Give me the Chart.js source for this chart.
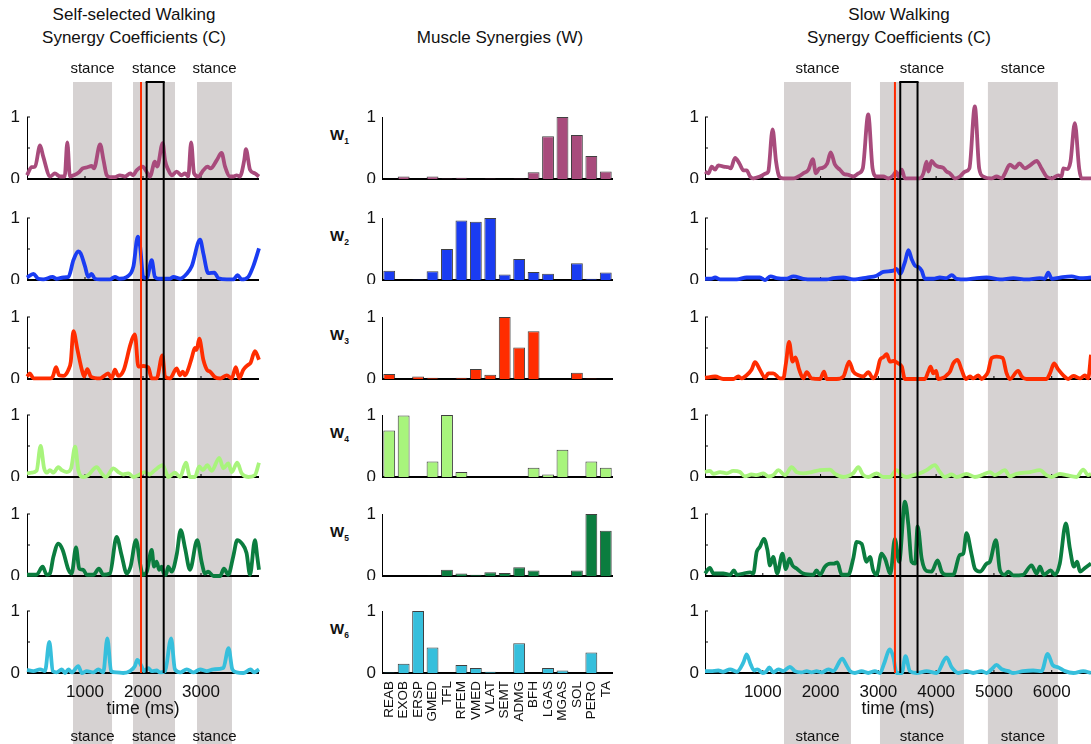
<!DOCTYPE html>
<html>
<head>
<meta charset="utf-8">
<script src="https://cdn.jsdelivr.net/npm/chart.js@4.4.0/dist/chart.umd.min.js"></script>
<style>
  body { margin: 0; background: #fff; font-family: "Liberation Sans", Arial, sans-serif; }
  #wrap { position: relative; width: 1091px; height: 744px; overflow: hidden; }
  canvas { position: absolute; }
  .lbl { position: absolute; transform: translate(-50%, -50%); white-space: nowrap; color: #111; font-size: 17px; }
  .wlbl { position: absolute; transform: translateY(-50%); font-size: 15px; font-weight: bold; color: #111; }
  .wlbl sub { font-size: 8.5px; }
</style>
</head>
<body>
<div id="wrap"></div>
<script>
// ---- data ----
const muscles = ["REAB", "EXOB", "ERSP", "GMED", "TFL", "RFEM", "VMED", "VLAT",
  "SEMT", "ADMG", "BFH", "LGAS", "MGAS", "SOL", "PERO", "TA"];

const synW1 = [0, 0.04, 0, 0.04, 0.01, 0.02, 0, 0.01, 0, 0.01, 0.11, 0.69, 1.0, 0.71, 0.37, 0.12];
const synW2 = [0.15, 0, 0.01, 0.14, 0.5, 0.96, 0.94, 1.0, 0.09, 0.34, 0.13, 0.1, 0, 0.27, 0.02, 0.12];
const synW3 = [0.08, 0, 0.04, 0.02, 0, 0.02, 0.16, 0.07, 1.0, 0.51, 0.77, 0, 0, 0.1, 0.01, 0];
const synW4 = [0.75, 0.99, 0, 0.25, 1.0, 0.08, 0, 0, 0, 0, 0.15, 0.04, 0.44, 0, 0.25, 0.15];
const synW5 = [0, 0, 0, 0.005, 0.1, 0.04, 0.02, 0.06, 0.05, 0.14, 0.09, 0, 0, 0.09, 1.0, 0.73];
const synW6 = [0.01, 0.15, 1.0, 0.41, 0, 0.13, 0.08, 0.02, 0, 0.48, 0, 0.08, 0.04, 0, 0.33, 0];

// self-selected walking coefficients, [time ms, value]
const selfC1 = [[0,0.06],[80,0.19],[140,0.2],[225,0.54],[280,0.36],[400,0.04],[480,0.09],[570,0.04],[650,0.04],[695,0.59],[740,0.04],[800,0.06],[885,0.1],[960,0.17],[1040,0.19],[1115,0.21],[1155,0.17],[1260,0.56],[1320,0.3],[1375,0.06],[1430,0.03],[1520,0.03],[1600,0.06],[1690,0.04],[1780,0.09],[1830,0.06],[1890,0.14],[1995,0.2],[2060,0.12],[2120,0.04],[2205,0.28],[2245,0.2],[2340,0.58],[2380,0.3],[2440,0.14],[2495,0.06],[2580,0.12],[2665,0.06],[2725,0.09],[2780,0.04],[2830,0.59],[2880,0.09],[2955,0.04],[3040,0.14],[3110,0.2],[3165,0.17],[3270,0.3],[3355,0.42],[3415,0.2],[3500,0.04],[3560,0.04],[3615,0.06],[3670,0.04],[3745,0.3],[3775,0.48],[3845,0.15],[3930,0.09],[4000,0.04]];
const selfC2 = [[0,0.04],[110,0.1],[195,0.02],[280,0.01],[440,0.05],[510,0.02],[625,0.04],[715,0.05],[800,0.32],[885,0.46],[925,0.43],[1000,0.22],[1055,0.05],[1115,0.1],[1170,0.02],[1260,0.01],[1430,0.01],[1515,0.05],[1600,0.02],[1720,0.05],[1835,0.22],[1910,0.7],[1950,0.54],[2005,0.05],[2065,0.03],[2150,0.32],[2205,0.05],[2290,0.02],[2465,0.02],[2525,0.05],[2640,0.02],[2755,0.1],[2840,0.22],[2985,0.65],[3040,0.43],[3125,0.11],[3230,0.12],[3300,0.03],[3445,0.01],[3560,0.01],[3630,0.08],[3700,0.01],[3815,0.05],[3900,0.22],[4000,0.51]];
const selfC3 = [[0,0.04],[50,0.09],[110,0.01],[400,0.01],[445,0.04],[500,0.19],[555,0.06],[625,0.05],[715,0.15],[755,0.28],[800,0.77],[870,0.47],[945,0.15],[985,0.04],[1040,0.16],[1100,0.04],[1260,0.01],[1345,0.06],[1400,0.09],[1460,0.01],[1515,0.15],[1575,0.05],[1670,0.15],[1775,0.53],[1820,0.66],[1860,0.72],[1920,0.2],[2005,0.21],[2090,0.19],[2150,0.01],[2235,0.01],[2335,0.38],[2380,0.04],[2465,0.01],[2580,0.17],[2640,0.06],[2685,0.12],[2725,0.06],[2780,0.16],[2840,0.34],[2895,0.5],[2925,0.47],[2970,0.65],[3040,0.31],[3110,0.14],[3155,0.12],[3240,0.03],[3330,0.01],[3445,0.06],[3530,0.01],[3600,0.19],[3660,0.01],[3730,0.15],[3815,0.23],[3855,0.26],[3930,0.45],[4000,0.31]];
const selfC4 = [[0,0.06],[80,0.07],[165,0.1],[235,0.5],[295,0.14],[340,0.07],[395,0.11],[455,0.07],[540,0.16],[600,0.11],[685,0.08],[760,0.14],[830,0.49],[885,0.11],[970,0.0],[1055,0.03],[1200,0.16],[1285,0.06],[1360,0.0],[1490,0.14],[1575,0.08],[1660,0.04],[1745,0.06],[1835,0.0],[1920,0.03],[2035,0.08],[2110,0.04],[2205,0.11],[2340,0.19],[2395,0.08],[2435,0.0],[2550,0.07],[2640,0.0],[2740,0.23],[2810,0.0],[2895,0.0],[2970,0.17],[3030,0.11],[3110,0.19],[3185,0.1],[3315,0.31],[3385,0.14],[3470,0.22],[3530,0.08],[3625,0.23],[3700,0.06],[3815,0.0],[3930,0.03],[4000,0.23]];
const selfC5 = [[0,0.02],[165,0.02],[270,0.15],[340,0.02],[395,0.04],[455,0.31],[540,0.52],[615,0.42],[715,0.1],[770,0.04],[845,0.46],[900,0.12],[970,0.1],[1030,0.02],[1145,0.02],[1240,0.12],[1315,0.02],[1430,0.04],[1545,0.63],[1630,0.34],[1720,0.04],[1785,0.15],[1880,0.58],[1950,0.2],[1995,0.02],[2065,0.07],[2150,0.42],[2190,0.15],[2235,0.23],[2280,0.1],[2320,0.15],[2360,0.04],[2395,0.02],[2435,0.15],[2495,0.07],[2580,0.34],[2650,0.74],[2725,0.45],[2810,0.1],[2935,0.58],[3010,0.23],[3070,0.04],[3125,0.07],[3215,0.0],[3330,0.0],[3395,0.12],[3470,0.02],[3555,0.31],[3625,0.58],[3700,0.53],[3785,0.37],[3845,0.02],[3930,0.58],[3970,0.31],[4000,0.1]];
const selfC6 = [[0,0.05],[110,0.03],[225,0.06],[310,0.03],[385,0.5],[445,0.03],[510,0.01],[600,0.06],[655,0.0],[715,0.06],[770,0.01],[885,0.11],[945,0.0],[1030,0.03],[1145,0.01],[1230,0.06],[1315,0.01],[1385,0.56],[1450,0.03],[1545,0.01],[1660,0.0],[1775,0.03],[1860,0.11],[1900,0.21],[1975,0.11],[2015,0.03],[2090,0.08],[2150,0.03],[2235,0.04],[2295,0.01],[2380,0.03],[2485,0.56],[2550,0.06],[2640,0.01],[2755,0.06],[2870,0.01],[2985,0.06],[3100,0.03],[3215,0.06],[3385,0.08],[3475,0.4],[3540,0.06],[3615,0.01],[3730,0.0],[3855,0.06],[3915,0.01],[4000,0.06]];

// slow walking coefficients, [time ms, value]
const slowC1 = [[0,0.12],[60,0.09],[115,0.2],[175,0.15],[230,0.22],[320,0.2],[405,0.19],[445,0.17],[520,0.34],[595,0.25],[665,0.14],[720,0.14],[780,0.04],[835,0.01],[950,0.04],[1055,0.09],[1095,0.12],[1170,0.8],[1230,0.28],[1285,0.04],[1355,0.01],[1530,0.01],[1615,0.04],[1700,0.09],[1790,0.15],[1865,0.32],[1920,0.09],[1980,0.17],[2035,0.18],[2115,0.25],[2175,0.43],[2250,0.23],[2335,0.15],[2405,0.08],[2465,0.07],[2565,0.04],[2655,0.09],[2730,0.17],[2825,1.04],[2900,0.17],[2970,0.04],[3085,0.04],[3170,0.01],[3260,0.06],[3305,0.12],[3345,0.04],[3405,0.15],[3460,0.01],[3605,0.01],[3720,0.01],[3780,0.09],[3835,0.28],[3865,0.12],[3920,0.29],[3980,0.23],[4035,0.2],[4125,0.18],[4180,0.12],[4240,0.09],[4325,0.01],[4410,0.04],[4500,0.12],[4575,0.17],[4670,1.17],[4745,0.17],[4815,0.04],[4960,0.01],[5045,0.04],[5135,0.01],[5190,0.09],[5275,0.23],[5365,0.18],[5440,0.25],[5535,0.17],[5625,0.22],[5740,0.29],[5825,0.17],[5910,0.04],[6000,0.01],[6115,0.06],[6170,0.04],[6200,0.17],[6270,0.16],[6325,0.28],[6400,0.9],[6475,0.17],[6515,0.01],[6680,0.01]];
const slowC2 = [[0,0.02],[100,0.02],[175,0.04],[260,0.01],[550,0.01],[720,0.04],[950,0.04],[1040,0.0],[1135,0.06],[1240,0.03],[1415,0.02],[1530,0.06],[1700,0.02],[1875,0.01],[2105,0.01],[2220,0.03],[2395,0.04],[2565,0.01],[2800,0.04],[2970,0.07],[3085,0.13],[3260,0.15],[3315,0.18],[3375,0.1],[3460,0.29],[3520,0.48],[3575,0.34],[3635,0.23],[3690,0.21],[3750,0.15],[3805,0.02],[3950,0.02],[4065,0.04],[4180,0.03],[4270,0.08],[4355,0.02],[4525,0.01],[4700,0.03],[4875,0.04],[5105,0.01],[5335,0.03],[5565,0.01],[5795,0.03],[5880,0.02],[5940,0.12],[6000,0.02],[6140,0.04],[6345,0.06],[6490,0.03],[6680,0.04]];
const slowC3 = [[0,0.02],[175,0.04],[315,0.0],[490,0.0],[575,0.04],[635,0.01],[720,0.06],[805,0.15],[865,0.27],[950,0.15],[1040,0.02],[1095,0.09],[1180,0.09],[1300,0.01],[1355,0.01],[1400,0.25],[1455,0.6],[1515,0.28],[1565,0.35],[1630,0.15],[1700,0.01],[1760,0.11],[1845,0.01],[1990,0.0],[2060,0.12],[2105,0.0],[2280,0.0],[2395,0.04],[2495,0.28],[2565,0.12],[2655,0.06],[2740,0.04],[2825,0.11],[2910,0.01],[2970,0.09],[3030,0.31],[3085,0.35],[3145,0.4],[3200,0.28],[3260,0.29],[3345,0.25],[3405,0.2],[3460,0.0],[3805,0.0],[3865,0.12],[3905,0.2],[3950,0.09],[4000,0.13],[4035,0.0],[4125,0.02],[4180,0.06],[4240,0.12],[4295,0.25],[4370,0.31],[4440,0.15],[4515,0.0],[4585,0.04],[4640,0.01],[4730,0.06],[4785,0.0],[4845,0.04],[4900,0.12],[4960,0.34],[5045,0.36],[5150,0.34],[5220,0.09],[5275,0.0],[5420,0.13],[5480,0.04],[5565,0.0],[5910,0.0],[5970,0.09],[6040,0.25],[6115,0.15],[6200,0.06],[6285,0.0],[6375,0.05],[6490,0.01],[6575,0.06],[6630,0.01],[6680,0.39]];
const slowC4 = [[0,0.08],[85,0.1],[145,0.05],[260,0.08],[375,0.06],[490,0.1],[605,0.08],[690,0.01],[805,0.04],[895,0.03],[1010,0.06],[1095,0.01],[1180,0.03],[1270,0.11],[1385,0.03],[1500,0.16],[1585,0.08],[1700,0.06],[1845,0.08],[1990,0.11],[2165,0.12],[2250,0.05],[2395,0.0],[2510,0.03],[2565,0.06],[2655,0.16],[2730,0.04],[2825,0.0],[2970,0.06],[3085,0.0],[3200,0.0],[3315,0.11],[3405,0.03],[3490,0.0],[3605,0.03],[3720,0.06],[3835,0.11],[3980,0.19],[4065,0.08],[4150,0.0],[4270,0.04],[4355,0.0],[4525,0.05],[4670,0.0],[4815,0.04],[4930,0.08],[5015,0.03],[5190,0.11],[5275,0.01],[5390,0.05],[5625,0.08],[5795,0.11],[5910,0.03],[6000,0.0],[6140,0.05],[6255,0.03],[6430,0.0],[6545,0.12],[6630,0.03],[6680,0.05]];
const slowC5 = [[0,0.04],[85,0.13],[145,0.04],[315,0.04],[435,0.02],[500,0.09],[550,0.02],[665,0.04],[780,0.06],[835,0.04],[895,0.39],[950,0.47],[1020,0.6],[1080,0.42],[1125,0.17],[1180,0.31],[1250,0.04],[1340,0.36],[1400,0.11],[1460,0.28],[1515,0.17],[1585,0.12],[1700,0.04],[1875,0.02],[1930,0.09],[1990,0.02],[2075,0.15],[2165,0.2],[2230,0.2],[2290,0.22],[2365,0.02],[2480,0.02],[2565,0.28],[2625,0.55],[2710,0.52],[2795,0.23],[2855,0.31],[2910,0.09],[2970,0.02],[3055,0.36],[3115,0.28],[3210,0.04],[3285,0.6],[3360,0.23],[3460,1.2],[3520,0.82],[3575,0.23],[3635,0.2],[3680,0.8],[3750,0.28],[3835,0.08],[3920,0.07],[4025,0.25],[4095,0.07],[4180,0.02],[4295,0.02],[4410,0.34],[4470,0.36],[4525,0.69],[4615,0.34],[4670,0.12],[4760,0.07],[4875,0.2],[4930,0.23],[5035,0.58],[5105,0.09],[5190,0.02],[5250,0.07],[5335,0.01],[5505,0.02],[5650,0.17],[5740,0.04],[5795,0.15],[5865,0.02],[5980,0.09],[6055,0.02],[6140,0.2],[6245,0.85],[6315,0.44],[6385,0.15],[6440,0.23],[6490,0.07],[6575,0.13],[6680,0.2]];
const slowC6 = [[0,0.03],[100,0.03],[230,0.04],[315,0.02],[435,0.06],[550,0.02],[665,0.17],[720,0.3],[790,0.14],[850,0.04],[905,0.06],[1000,0.0],[1055,0.02],[1115,0.09],[1180,0.01],[1270,0.06],[1355,0.03],[1470,0.1],[1555,0.03],[1670,0.01],[1760,0.03],[1845,0.01],[1930,0.03],[2020,0.01],[2135,0.06],[2220,0.03],[2375,0.23],[2450,0.12],[2510,0.03],[2595,0.0],[2710,0.03],[2825,0.0],[2940,0.03],[3030,0.0],[3095,0.14],[3200,0.38],[3260,0.25],[3315,0.0],[3405,0.0],[3470,0.27],[3545,0.03],[3660,0.0],[3835,0.03],[4010,0.0],[4180,0.25],[4270,0.09],[4385,0.0],[4525,0.03],[4640,0.0],[4785,0.03],[4875,0.0],[4960,0.06],[5045,0.13],[5135,0.06],[5250,0.03],[5335,0.0],[5505,0.03],[5680,0.04],[5825,0.03],[5930,0.31],[6015,0.13],[6115,0.09],[6230,0.03],[6375,0.0],[6545,0.03],[6680,0.0]];

// gait events (ms)
const selfStance = [[793, 1466], [1828, 2552], [2931, 3534]];
const slowStance = [[1367, 2526], [3028, 4481], [4896, 6107]];
const selfMarker = 1966, slowMarker = 3287;
const selfWindow = [2063, 2357], slowWindow = [3379, 3678];
const selfTicks = [1000, 2000, 3000];
const slowTicks = [1000, 2000, 3000, 4000, 5000, 6000];

const colors = ["#a84b7c", "#1a3cf2", "#ff2d00", "#a8f47c", "#0b7d3f", "#36bfdc"];

// ---- layout ----
const rowBase = [179, 280, 379, 477, 576, 673];
const canvasTop = [55, 183, 284, 383, 481, 580];
const pageBottom = 744;
const unitPx = 62;
const shadeTop = 82;
const FONT = '"Liberation Sans", Arial, sans-serif';

Chart.defaults.font.family = FONT;
Chart.defaults.color = "#111";

const wrap = document.getElementById("wrap");

function addText(cls, html, x, y) {
  const d = document.createElement("div");
  d.className = cls;
  d.innerHTML = html;
  d.style.left = x + "px";
  d.style.top = y + "px";
  wrap.appendChild(d);
}

function line(ctx, x0, y0, x1, y1) {
  ctx.beginPath();
  ctx.moveTo(x0, y0);
  ctx.lineTo(x1, y1);
  ctx.stroke();
}

// shaded stance phases, axes, marker line and window box
const gaitPlugin = {
  id: "gait",
  beforeDraw(chart, args, o) {
    const { ctx } = chart;
    const x = chart.scales.x;
    ctx.save();
    ctx.fillStyle = "#d6d2d2";
    o.bands.forEach((b) => {
      const x0 = x.getPixelForValue(b[0]);
      const x1 = x.getPixelForValue(b[1]);
      ctx.fillRect(x0, o.shadeTop, x1 - x0, chart.height - o.shadeTop);
    });
    if (o.labelY !== null) {
      ctx.fillStyle = "#111";
      ctx.font = "15px " + FONT;
      ctx.textAlign = "center";
      ctx.textBaseline = "middle";
      o.bands.forEach((b) => {
        ctx.fillText("stance", x.getPixelForValue((b[0] + b[1]) / 2), o.labelY);
      });
    }
    ctx.restore();
  },
  beforeDatasetsDraw(chart, args, o) {
    const { ctx, chartArea: ca } = chart;
    const { x, y } = chart.scales;
    const y0 = y.getPixelForValue(0);
    const y1 = y.getPixelForValue(1);
    ctx.save();
    ctx.strokeStyle = "#000";
    ctx.lineWidth = 1.8;
    line(ctx, ca.left, y0, ca.right, y0);
    ctx.lineWidth = 1;
    line(ctx, ca.left + 0.5, y0, ca.left + 0.5, y1);
    if (o.ticks) {
      [0.5, 1].forEach((v) => line(ctx, ca.left, y.getPixelForValue(v), ca.left + 3, y.getPixelForValue(v)));
      o.ticks.forEach((v) => line(ctx, x.getPixelForValue(v), y0, x.getPixelForValue(v), y0 - 3));
    }
    ctx.restore();
  },
  afterDatasetsDraw(chart, args, o) {
    if (o.marker === null) return;
    const { ctx } = chart;
    const { x, y } = chart.scales;
    const bottom = o.toAxis ? y.getPixelForValue(0) : chart.height;
    ctx.save();
    ctx.strokeStyle = "#ff2a00";
    ctx.lineWidth = 2;
    const xm = x.getPixelForValue(o.marker);
    line(ctx, xm, o.shadeTop, xm, bottom);
    ctx.strokeStyle = "#000";
    const xa = x.getPixelForValue(o.win[0]);
    const xb = x.getPixelForValue(o.win[1]);
    line(ctx, xa, o.shadeTop, xa, bottom);
    line(ctx, xb, o.shadeTop, xb, bottom);
    if (o.cap) line(ctx, xa - 1, o.shadeTop, xb + 1, o.shadeTop);
    ctx.restore();
  },
};

function makeCanvas(left, top, w, h) {
  const c = document.createElement("canvas");
  c.width = w;
  c.height = h;
  c.style.left = left + "px";
  c.style.top = top + "px";
  wrap.appendChild(c);
  return c;
}

function rowGeom(r) {
  const top = canvasTop[r];
  const bottom = r < 5 ? canvasTop[r + 1] : pageBottom;
  return { top, h: bottom - top, below: bottom - rowBase[r], yMax: (rowBase[r] - top) / unitPx, last: r === 5 };
}

function yScale(yMax, axisW, pad) {
  return {
    min: 0,
    max: yMax,
    grid: { display: false, drawTicks: false },
    border: { display: false },
    ticks: { font: { size: 17 }, color: "#111", padding: pad, callback: (v) => String(v) },
    afterBuildTicks: (s) => { s.ticks = [{ value: 0 }, { value: 1 }]; },
    afterFit: (s) => { s.width = axisW; s.paddingTop = 0; s.paddingBottom = 0; },
  };
}

function lineChart(col, r, series) {
  const g = rowGeom(r);
  const c = makeCanvas(col.left, g.top, col.width, g.h);
  new Chart(c, {
    type: "line",
    data: {
      datasets: [{
        data: series.map((p) => ({ x: p[0], y: p[1] })),
        borderColor: colors[r],
        borderWidth: 3.8,
        pointRadius: 0,
        cubicInterpolationMode: "monotone",
        clip: false,
      }],
    },
    options: {
      responsive: false,
      animation: false,
      events: [],
      layout: { padding: { top: 0, left: 0, right: col.padRight, bottom: g.last ? 0 : g.below } },
      scales: {
        x: {
          type: "linear",
          min: 0,
          max: col.xMax,
          display: g.last,
          grid: { display: false, drawTicks: false },
          border: { display: false },
          ticks: { font: { size: 17 }, color: "#111", padding: 9, maxRotation: 0, autoSkip: false,
            callback: (v) => String(v) },
          afterBuildTicks: (s) => { s.ticks = col.ticks.map((v) => ({ value: v })); },
          afterFit: (s) => {
            if (g.last) s.height = g.below;
            s.paddingLeft = 0;
            s.paddingRight = 0;
          },
          title: { display: g.last, text: "time (ms)", font: { size: 17.5 }, color: "#111", padding: { top: 0, bottom: 24 } },
        },
        y: yScale(g.yMax, col.axisW, col.tickPad),
      },
      plugins: {
        legend: { display: false },
        tooltip: { enabled: false },
        gait: {
          bands: col.bands,
          shadeTop: r === 0 ? shadeTop - g.top : 0,
          labelY: r === 0 ? 69 - g.top : g.last ? 737 - g.top : null,
          ticks: col.ticks,
          marker: col.marker,
          win: col.win,
          cap: r === 0,
          toAxis: g.last,
        },
      },
    },
    plugins: [gaitPlugin],
  });
}

function barChart(r, values) {
  const g = rowGeom(r);
  const c = makeCanvas(350, g.top, 270, g.h);
  new Chart(c, {
    type: "bar",
    data: {
      labels: muscles,
      datasets: [{
        data: values,
        backgroundColor: colors[r],
        borderColor: "rgba(30,30,30,0.85)",
        borderWidth: 1,
        barPercentage: 0.82,
        categoryPercentage: 1,
      }],
    },
    options: {
      responsive: false,
      animation: false,
      events: [],
      layout: { padding: { top: 0, left: 0, right: 7, bottom: g.last ? 0 : g.below } },
      scales: {
        x: {
          display: g.last,
          grid: { display: false, drawTicks: false },
          border: { display: false },
          ticks: { font: { size: 13.5 }, color: "#111", padding: 8, minRotation: 90, maxRotation: 90, autoSkip: false },
          afterFit: (s) => {
            if (g.last) s.height = g.below;
            s.paddingLeft = 0;
            s.paddingRight = 0;
          },
        },
        y: yScale(g.yMax, 32, 6),
      },
      plugins: {
        legend: { display: false },
        tooltip: { enabled: false },
        gait: { bands: [], shadeTop: 0, labelY: null, ticks: null, marker: null },
      },
    },
    plugins: [gaitPlugin],
  });
}

const selfCol = { left: 0, width: 270, axisW: 27, padRight: 11, tickPad: 7, xMax: 4000,
  ticks: selfTicks, bands: selfStance, marker: selfMarker, win: selfWindow };
const slowCol = { left: 680, width: 411, axisW: 25, padRight: 0, tickPad: 6, xMax: 6680,
  ticks: slowTicks, bands: slowStance, marker: slowMarker, win: slowWindow };

const selfSeries = [selfC1, selfC2, selfC3, selfC4, selfC5, selfC6];
const slowSeries = [slowC1, slowC2, slowC3, slowC4, slowC5, slowC6];
const synergies = [synW1, synW2, synW3, synW4, synW5, synW6];

for (let r = 0; r < 6; r++) {
  lineChart(selfCol, r, selfSeries[r]);
  lineChart(slowCol, r, slowSeries[r]);
  barChart(r, synergies[r]);
  addText("wlbl", "W<sub>" + (r + 1) + "</sub>", 330, rowBase[r] - 43);
}

// titles
addText("lbl", "Self-selected Walking", 134, 15);
addText("lbl", "Synergy Coefficients (C)", 134, 38);
addText("lbl", "Muscle Synergies (W)", 500, 38);
addText("lbl", "Slow Walking", 899, 15);
addText("lbl", "Synergy Coefficients (C)", 899, 38);
</script>
</body>
</html>
